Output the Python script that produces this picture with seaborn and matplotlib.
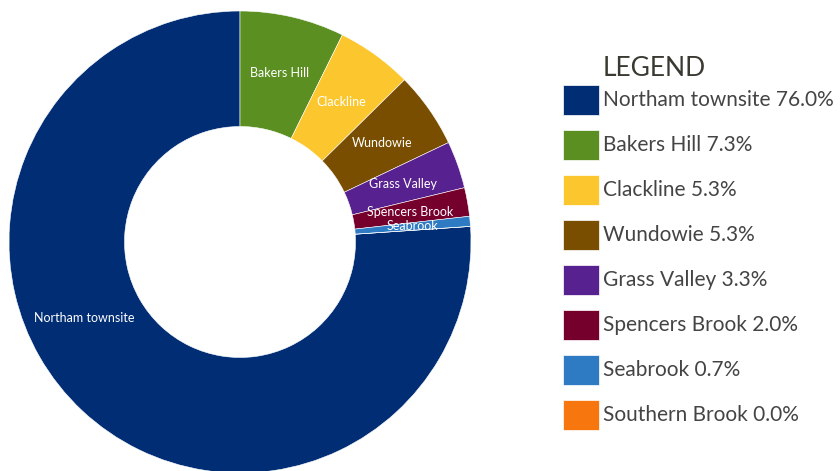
import matplotlib
matplotlib.use("Agg")
import matplotlib.pyplot as plt
import seaborn as sns
import numpy as np
from matplotlib.patches import Rectangle

# data
localities = ["Northam townsite", "Bakers Hill", "Clackline", "Wundowie",
              "Grass Valley", "Spencers Brook", "Seabrook", "Southern Brook"]
shares = [76.0, 7.3, 5.3, 5.3, 3.3, 2.0, 0.7, 0.0]
colours = ["#002D74", "#5B8F22", "#FCC72E", "#7A4E00",
           "#57228F", "#76002C", "#2F7BC3", "#F7760E"]

sns.set_theme(style="white")
plt.rcParams['font.family'] = ['Lato', 'DejaVu Sans']

W, H = 840, 471
fig = plt.figure(figsize=(W / 100, H / 100), dpi=100)

# donut axes: centre (240, 242) px, outer radius 231 px
cx, cy, r = 240, 242, 231
ax = fig.add_axes([(cx - r) / W, (H - cy - r) / H, 2 * r / W, 2 * r / H])

total = sum(shares)
start = 90 + shares[0] / total * 360  # Northam ends at 12 o'clock
labels = [n if v > 0 else "" for n, v in zip(localities, shares)]
wedges, texts = ax.pie(shares, colors=colours, labels=labels,
                       startangle=start, counterclock=False, radius=1,
                       labeldistance=0.75,
                       wedgeprops=dict(width=0.5, edgecolor="white", linewidth=0.4),
                       textprops=dict(color="white", fontsize=9, ha="center", va="center"))
# big slice label sits a bit higher in the original
ang = np.deg2rad(206)
texts[0].set_position((0.75 * np.cos(ang), 0.75 * np.sin(ang)))
ax.set_xlim(-1, 1)
ax.set_ylim(-1, 1)
ax.set_aspect("equal")
ax.axis("off")

# legend drawn by hand to match the layout
fig.text(603 / W, 1 - 68 / H, "LEGEND", fontsize=19, color="#3A3A32",
         va="center", ha="left")
for i, (name, val, col) in enumerate(zip(localities, shares, colours)):
    yc = 100 + i * 45
    fig.add_artist(Rectangle((563 / W, 1 - (yc + 15) / H), 36 / W, 30 / H,
                             transform=fig.transFigure, facecolor=col,
                             edgecolor="white", linewidth=0.5))
    fig.text(603 / W, 1 - yc / H, f"{name} {val:.1f}%", fontsize=15,
             color="#444444", va="center", ha="left")

fig.savefig("out.png", dpi=100)
